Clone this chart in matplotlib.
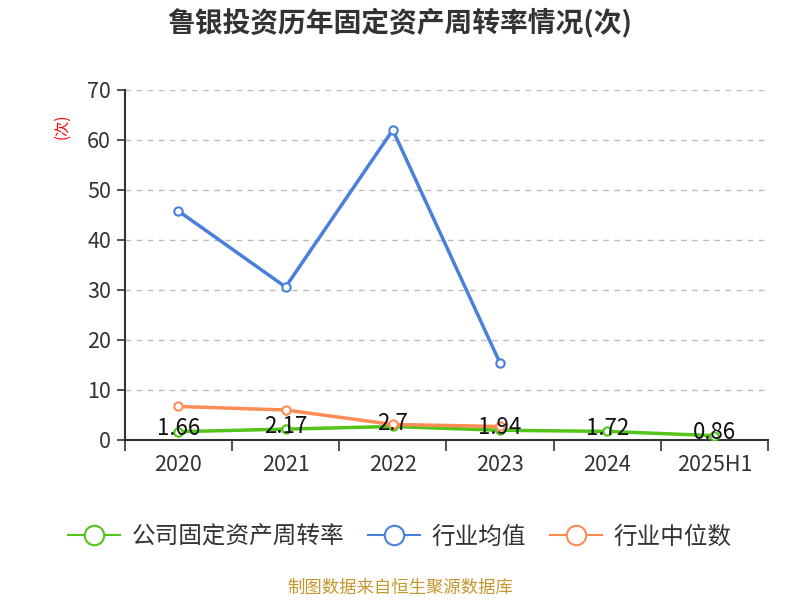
import matplotlib
matplotlib.use("Agg")
import matplotlib.pyplot as plt
import numpy as np

plt.rcParams['font.family'] = ['Noto Sans CJK SC', 'DejaVu Sans']

# data
years = ['2020', '2021', '2022', '2023', '2024', '2025H1']
company = [1.66, 2.17, 2.7, 1.94, 1.72, 0.86]
ind_avg = [45.8, 30.6, 62.0, 15.4]
ind_median = [6.7, 6.0, 3.1, 2.7]
company_labels = ['1.66', '2.17', '2.7', '1.94', '1.72', '0.86']

green = '#52C41A'
blue = '#4A7FDB'
orange = '#FF8C55'

fig = plt.figure(figsize=(8, 6), dpi=100)
ax = fig.add_axes([0.156, 0.2667, 0.804, 0.5833])

x = np.arange(len(years))
mk = dict(marker='o', markersize=6, markerfacecolor='white', markeredgewidth=1.5)
ax.plot(x, company, color=green, linewidth=2.5, label='公司固定资产周转率', zorder=3, **mk)
ax.plot(x[:len(ind_avg)], ind_avg, color=blue, linewidth=2.5, label='行业均值', zorder=3, **mk)
ax.plot(x[:len(ind_median)], ind_median, color=orange, linewidth=2.5, label='行业中位数', zorder=3, **mk)

for xi, v, s in zip(x, company, company_labels):
    ax.text(xi, v + 0.6, s, ha='center', va='center', fontsize=16, color='#111111', zorder=4)

ax.set_xlim(-0.5, len(years) - 0.5)
ax.set_ylim(0, 70)
ax.set_yticks(range(0, 71, 10))
ax.set_xticks(x)
ax.set_xticklabels(years)
ax.set_xticks(np.arange(-0.5, len(years)), minor=True)
ax.tick_params(axis='x', which='major', length=0, pad=10, labelsize=15.5, colors='#333333')
ax.tick_params(axis='x', which='minor', length=8, width=1.2, direction='out', color='#333333')
ax.tick_params(axis='y', length=6, width=1.2, labelsize=15.5, colors='#333333', pad=4)

ax.grid(axis='y', linestyle=(0, (4, 4)), color='#BBBBBB', linewidth=1)
ax.set_axisbelow(True)
for side in ['top', 'right']:
    ax.spines[side].set_visible(False)
ax.spines['left'].set_color('#333333')
ax.spines['left'].set_linewidth(1.5)
ax.spines['bottom'].set_color('#333333')
ax.spines['bottom'].set_linewidth(1.5)

fig.text(0.078, 0.79, '(次)', color='red', rotation=90, fontsize=11, ha='center', va='center')

fig.text(0.5, 0.962, '鲁银投资历年固定资产周转率情况(次)', ha='center', va='center',
         fontsize=20, fontweight='bold', color='#333333')

leg = fig.legend(loc='center', bbox_to_anchor=(0.5, 0.105), ncol=3, frameon=False,
                 fontsize=17, handlelength=2.2, columnspacing=1.0, handletextpad=0.5,
                 labelcolor='#333333')
for h in leg.legend_handles:
    h.set_markersize(14)
    h.set_linewidth(1.5)

fig.text(0.5, 0.02, '制图数据来自恒生聚源数据库', ha='center', va='center',
         fontsize=12.5, color='#C8962E')

fig.savefig('out.png', dpi=100)
